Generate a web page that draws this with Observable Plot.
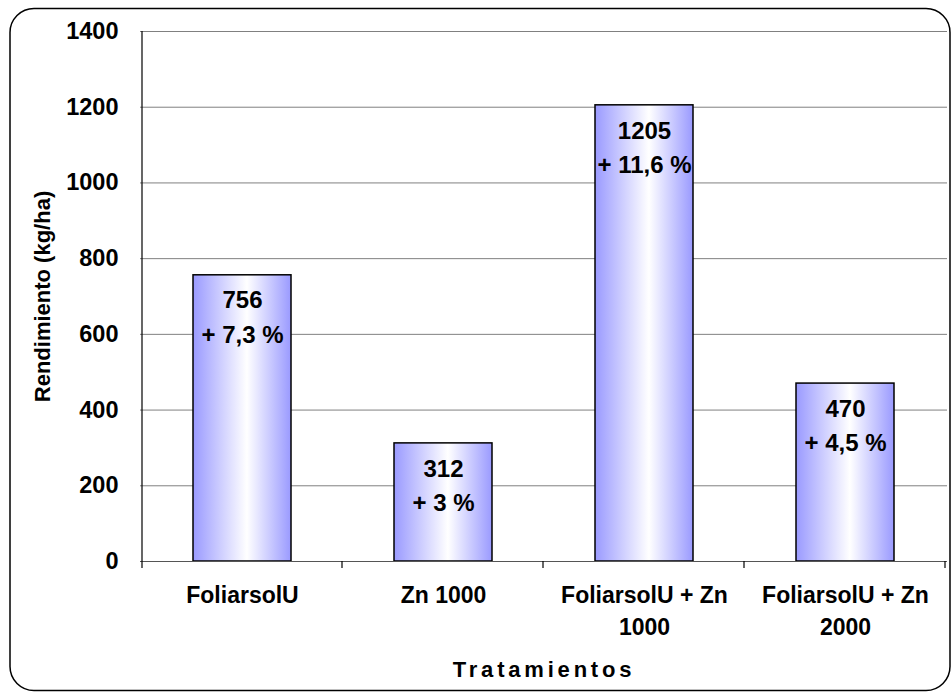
<!DOCTYPE html>
<html>
<head>
<meta charset="utf-8">
<script src="https://cdn.jsdelivr.net/npm/d3@7"></script>
<script src="https://cdn.jsdelivr.net/npm/@observablehq/plot@0.6"></script>
<style>
  html, body { margin: 0; padding: 0; background: #fff; }
  #chart svg { display: block; }
</style>
</head>
<body>
<div id="chart"></div>
<script>
const categories = ["FoliarsolU", "Zn 1000", "FoliarsolU + Zn 1000", "FoliarsolU + Zn 2000"];
const categoryLabels = ["FoliarsolU", "Zn 1000", "FoliarsolU + Zn\n1000", "FoliarsolU + Zn\n2000"];
const yields = [756, 312, 1205, 470];
const increases = ["+ 7,3 %", "+ 3 %", "+ 11,6 %", "+ 4,5 %"];
const yTicks = [0, 200, 400, 600, 800, 1000, 1200, 1400];
const xTitle = "Tratamientos";
const yTitle = "Rendimiento (kg/ha)";

const data = categories.map((c, i) => ({
  cat: c,
  label: categoryLabels[i],
  value: yields[i],
  text: `${yields[i]}\n${increases[i]}`
}));

const font = "'Liberation Sans', Arial, sans-serif";

const chart = Plot.plot({
  width: 952,
  height: 693,
  marginLeft: 140,
  marginRight: 5,
  marginTop: 31,
  marginBottom: 132,
  style: { fontFamily: font, background: "white", overflow: "visible" },
  x: { domain: categories, paddingInner: 0.51, paddingOuter: 0.255, axis: null },
  y: { domain: [0, 1400], axis: null },
  marks: [
    Plot.gridY(yTicks, { stroke: "#808080", strokeOpacity: 1, strokeWidth: 1 }),
    Plot.axisY(yTicks, { tickSize: 9, tickPadding: 13, fontSize: 23.5, fontWeight: "bold", fill: "black", stroke: "none", label: null, tickFormat: d => String(d) }),
    Plot.barY(data, { x: "cat", y: "value", fill: "url(#barGrad)", stroke: "black", strokeWidth: 1.5 }),
    Plot.ruleY([0], { stroke: "#555", strokeWidth: 1.2 }),
    Plot.text(data, { x: "cat", y: "value", text: "text", lineAnchor: "top", dy: 9, lineHeight: 1.42, fontSize: 24, fontWeight: "bold", fill: "black" }),
    Plot.text(data, { x: "cat", frameAnchor: "bottom", text: "label", lineAnchor: "top", dy: 18, lineHeight: 1.42, fontSize: 23, fontWeight: "bold", fill: "black" }),
    Plot.text([xTitle], { frameAnchor: "bottom", text: d => d, lineAnchor: "middle", textAnchor: "middle", dy: 108, fontSize: 22, fontWeight: "bold", fill: "black" }),
    Plot.text([yTitle], { frameAnchor: "left", text: d => d, rotate: -90, textAnchor: "middle", lineAnchor: "middle", dx: -98, fontSize: 22, fontWeight: "bold", fill: "black" })
  ]
});

const svg = d3.select(chart);
// gradient definition
const defs = svg.insert("defs", ":first-child");
const grad = defs.append("linearGradient").attr("id", "barGrad").attr("x1", "0").attr("x2", "1").attr("y1", "0").attr("y2", "0");
grad.append("stop").attr("offset", "0%").attr("stop-color", "#9a9aff");
grad.append("stop").attr("offset", "55%").attr("stop-color", "#ffffff");
grad.append("stop").attr("offset", "100%").attr("stop-color", "#9a9aff");

// letter spacing for x title
svg.selectAll("text").filter(function() { return this.textContent === xTitle; }).attr("letter-spacing", "3.8px");

// axis line and category boundary ticks using the chart's scales
const xs = chart.scale("x");
const ys = chart.scale("y");
const step = xs.bandwidth / (1 - xs.paddingInner);
const y0 = ys.apply(0);
const yTop = ys.apply(1400);
const extra = svg.append("g").attr("stroke", "black").attr("stroke-width", 1.2);
const left = xs.apply(categories[0]) - xs.paddingInner * step / 2;
extra.append("line").attr("x1", left).attr("x2", left).attr("y1", yTop).attr("y2", y0 + 7);
categories.forEach((c, i) => {
  const b = xs.apply(c) + xs.bandwidth + xs.paddingInner * step / 2;
  extra.append("line").attr("x1", b).attr("x2", b).attr("y1", y0).attr("y2", y0 + 7);
});

// outer rounded border
svg.append("rect").attr("x", 10).attr("y", 8.5).attr("width", 940).attr("height", 682)
  .attr("rx", 24).attr("fill", "none").attr("stroke", "black").attr("stroke-width", 1.5);

document.getElementById("chart").appendChild(chart);
</script>
</body>
</html>
